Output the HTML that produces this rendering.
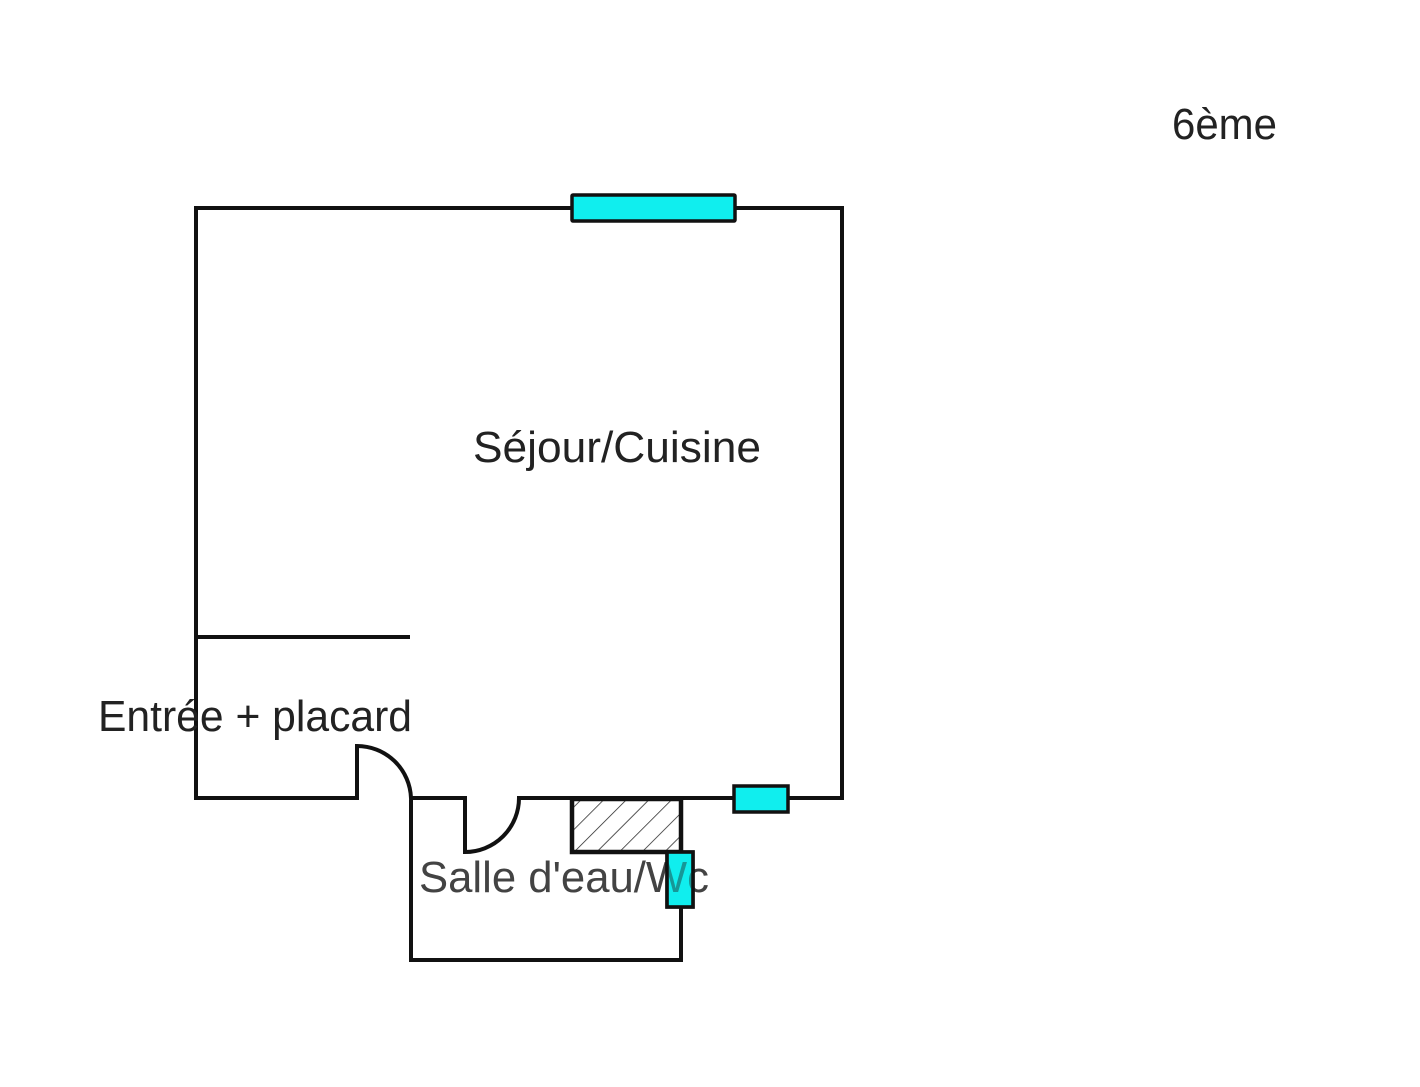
<!DOCTYPE html>
<html><head><meta charset="utf-8"><style>html,body{margin:0;padding:0;background:#fff}svg{display:block}</style></head>
<body>
<svg width="1420" height="1087" viewBox="0 0 1420 1087" xmlns="http://www.w3.org/2000/svg">
<defs>
<pattern id="h" patternUnits="userSpaceOnUse" width="16" height="16" patternTransform="rotate(45)">
<line x1="0" y1="0" x2="0" y2="16" stroke="#222" stroke-width="1.5"/>
</pattern>
</defs>
<g fill="none" stroke="#111" stroke-width="4">
<path d="M196 798 L196 208 L842 208 L842 798 L519 798 A54 54 0 0 1 465 852 L465 798 L411 798 A54 54 0 0 0 357 746 L357 798 Z"/>
<path d="M196 637 L410 637"/>
<path d="M411 800 L411 960 L681 960 L681 798"/>
</g>
<rect x="572" y="799" width="109" height="53" fill="url(#h)" stroke="#111" stroke-width="4.5"/>
<g fill="#10eeee" stroke="#111" stroke-width="3.5">
<rect x="572" y="195" width="163" height="26" rx="1"/>
<rect x="734" y="786" width="54" height="26"/>
</g>
<rect x="667" y="852" width="26" height="55" fill="#10eeee" stroke="#111" stroke-width="3.5"/>
<g font-family="Liberation Sans, sans-serif" fill="#222" font-size="44">
<text x="1172" y="139" textLength="105" lengthAdjust="spacingAndGlyphs">6ème</text>
<text x="473" y="462" textLength="288" lengthAdjust="spacingAndGlyphs">Séjour/Cuisine</text>
<text x="98" y="731" textLength="314" lengthAdjust="spacingAndGlyphs">Entrée + placard</text>
<text x="419" y="892" textLength="290" lengthAdjust="spacingAndGlyphs" fill-opacity="0.85">Salle d'eau/Wc</text>
</g>
<rect x="667" y="852" width="26" height="55" fill="#10eeee" fill-opacity="0.5" stroke="#111" stroke-width="3.5"/>
</svg>
</body></html>
